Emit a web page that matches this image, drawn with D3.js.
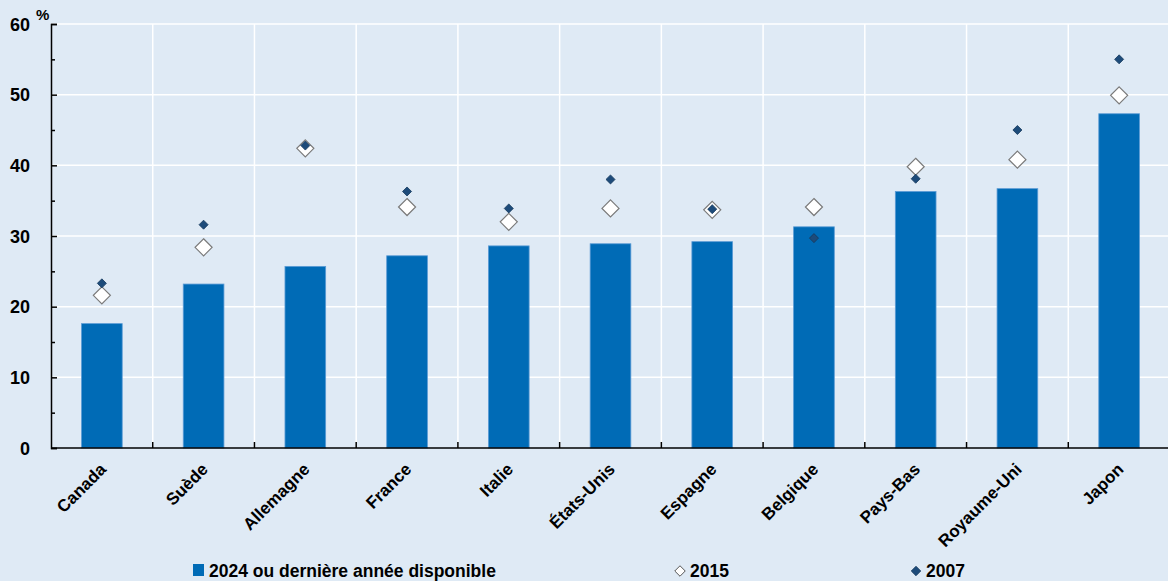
<!DOCTYPE html>
<html>
<head>
<meta charset="utf-8">
<script src="https://cdn.jsdelivr.net/npm/d3@7"></script>
<style>
  body { margin: 0; background: #dfeaf5; }
  svg { display: block; font-family: "Liberation Sans Narrow", "Arial Narrow", "Liberation Sans", Arial, sans-serif; font-weight: bold; }
</style>
</head>
<body>
<script>
const countries = ["Canada", "Suède", "Allemagne", "France", "Italie", "États-Unis",
    "Espagne", "Belgique", "Pays-Bas", "Royaume-Uni", "Japon"];
const latest = [17.6, 23.2, 25.7, 27.2, 28.6, 28.9, 29.2, 31.3, 36.3, 36.7, 47.3];
const y2015  = [21.6, 28.4, 42.4, 34.1, 32.0, 33.9, 33.7, 34.1, 39.8, 40.8, 49.9];
const y2007  = [23.3, 31.6, 42.8, 36.3, 33.9, 38.0, 33.8, 29.7, 38.1, 45.0, 55.0];
const yTicks = [0, 10, 20, 30, 40, 50, 60];
const legendLabels = ["2024 ou dernière année disponible", "2015", "2007"];

const W = 1168, H = 581;
const margin = {top: 24, right: -2, bottom: 133, left: 51};
const width  = W - margin.left - margin.right,
      height = H - margin.top - margin.bottom;

const svg = d3.select("body").append("svg")
    .attr("width", W)
    .attr("height", H);

svg.append("rect").attr("width", W).attr("height", H).attr("fill", "#dfeaf5");

const g = svg.append("g")
    .attr("transform", `translate(${margin.left},${margin.top})`);

const x = d3.scaleBand()
    .domain(countries)
    .range([0, width])
    .paddingInner(0.6)
    .paddingOuter(0.3);

const y = d3.scaleLinear()
    .domain([0, 60])
    .range([height, 0]);

// horizontal grid
g.selectAll(".hgrid")
    .data(yTicks.filter(d => d > 0))
    .enter().append("line")
    .attr("class", "hgrid")
    .attr("x1", 0).attr("x2", width)
    .attr("y1", d => y(d)).attr("y2", d => y(d))
    .attr("stroke", "#fff").attr("stroke-width", 1.5);

// vertical grid at category boundaries
const edges = d3.range(1, countries.length + 1).map(i => i * width / countries.length);
g.selectAll(".vgrid")
    .data(edges)
    .enter().append("line")
    .attr("class", "vgrid")
    .attr("x1", d => d).attr("x2", d => d)
    .attr("y1", 0).attr("y2", height)
    .attr("stroke", "#fff").attr("stroke-width", 1.5);

// bars
g.selectAll(".bar")
    .data(latest)
    .enter().append("rect")
    .attr("class", "bar")
    .attr("x", (d, i) => x(countries[i]))
    .attr("width", x.bandwidth())
    .attr("y", d => y(d))
    .attr("height", d => height - y(d))
    .attr("fill", "#006bb6")
    .attr("stroke", "#5b9bd5")
    .attr("stroke-width", 0.8);

const cx = i => x(countries[i]) + x.bandwidth() / 2;

// 2015 diamonds
g.selectAll(".d2015")
    .data(y2015)
    .enter().append("path")
    .attr("class", "d2015")
    .attr("transform", (d, i) => `translate(${cx(i)},${y(d)})`)
    .attr("d", d3.symbol(d3.symbolDiamond2, 185))
    .attr("fill", "#fff")
    .attr("stroke", "#7a7a7a")
    .attr("stroke-width", 1.2);

// 2007 diamonds
g.selectAll(".d2007")
    .data(y2007)
    .enter().append("path")
    .attr("class", "d2007")
    .attr("transform", (d, i) => `translate(${cx(i)},${y(d)})`)
    .attr("d", d3.symbol(d3.symbolDiamond2, 52))
    .attr("fill", "#1d4b7a")
    .attr("stroke", "#15385c")
    .attr("stroke-width", 0.8);

// y axis
const yAxis = g.append("g")
    .call(d3.axisRight(y).tickValues(yTicks).tickSize(6).tickFormat(""));
yAxis.select(".domain").attr("stroke", "#000").attr("stroke-width", 1.5);
yAxis.selectAll(".tick line").attr("stroke", "#000").attr("stroke-width", 1.5);

g.append("g")
    .call(d3.axisRight(y).tickValues(d3.range(5, 60, 10)).tickSize(4).tickFormat(""))
    .call(a => a.select(".domain").remove())
    .selectAll(".tick line").attr("stroke", "#000").attr("stroke-width", 1.5);

g.selectAll(".ylab")
    .data(yTicks)
    .enter().append("text")
    .attr("class", "ylab")
    .attr("x", -21)
    .attr("y", d => y(d) + 6.5)
    .attr("text-anchor", "end")
    .attr("font-size", 18)
    .attr("fill", "#000")
    .text(d => d);

g.append("text")
    .attr("x", -15).attr("y", -4)
    .attr("font-size", 15)
    .attr("fill", "#000")
    .text("%");

// x axis
g.append("line")
    .attr("x1", 0).attr("x2", width)
    .attr("y1", height).attr("y2", height)
    .attr("stroke", "#000").attr("stroke-width", 1.5);

g.selectAll(".xtick")
    .data(edges)
    .enter().append("line")
    .attr("class", "xtick")
    .attr("x1", d => d).attr("x2", d => d)
    .attr("y1", height).attr("y2", height - 6)
    .attr("stroke", "#000").attr("stroke-width", 1.5);

g.selectAll(".xlab")
    .data(countries)
    .enter().append("text")
    .attr("class", "xlab")
    .attr("transform", d => `translate(${x(d) + x.bandwidth() / 2 - 3},${height + 14}) rotate(-45)`)
    .attr("text-anchor", "end")
    .attr("font-size", 17)
    .attr("fill", "#000")
    .attr("dy", "0.7em")
    .text(d => d);

// legend
const leg = svg.append("g").attr("font-size", 17.5).attr("fill", "#000");
leg.append("rect")
    .attr("x", 193).attr("y", 564).attr("width", 11).attr("height", 12)
    .attr("fill", "#006bb6");
leg.append("text").attr("x", 209).attr("y", 577).text(legendLabels[0]);

leg.append("path")
    .attr("transform", "translate(680,571)")
    .attr("d", d3.symbol(d3.symbolDiamond2, 70))
    .attr("fill", "#fff").attr("stroke", "#555").attr("stroke-width", 1);
leg.append("text").attr("x", 690).attr("y", 577).text(legendLabels[1]);

leg.append("path")
    .attr("transform", "translate(916,571)")
    .attr("d", d3.symbol(d3.symbolDiamond2, 58))
    .attr("fill", "#1d4b7a").attr("stroke", "#15385c").attr("stroke-width", 0.8);
leg.append("text").attr("x", 926).attr("y", 577).text(legendLabels[2]);
</script>
</body>
</html>
